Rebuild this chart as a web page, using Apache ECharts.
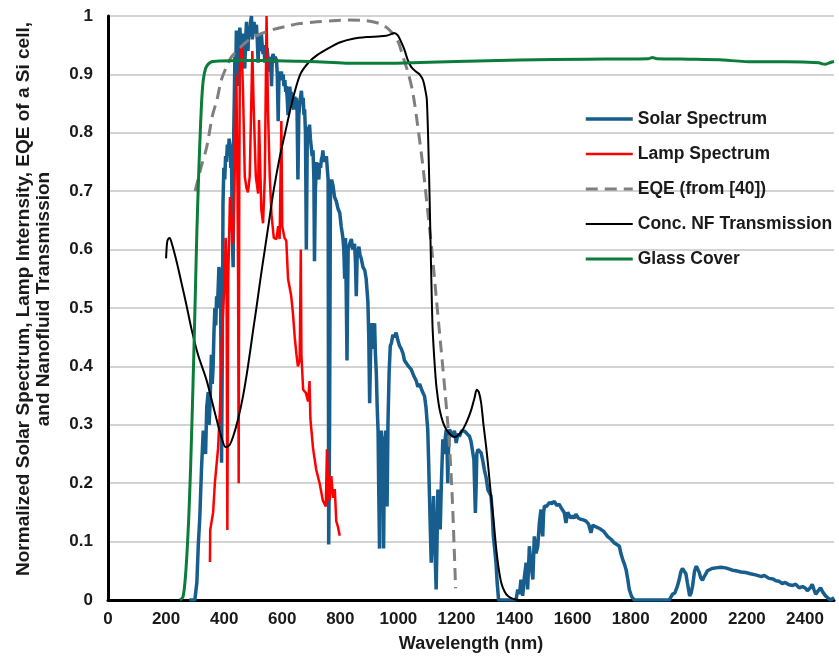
<!DOCTYPE html>
<html>
<head>
<meta charset="utf-8">
<script src="https://cdn.jsdelivr.net/npm/echarts@6/dist/echarts.min.js"></script>
<style>
html,body{margin:0;padding:0;background:#fff;}
#chart{width:839px;height:658px;}
</style>
</head>
<body>
<div id="chart"></div>
<script>
// Wavelength (nm) / value pairs
var solarSpectrum = [[280,0],[299,0],[306,0.03],[311,0.095],[316,0.14],[322,0.225],[328,0.29],[333,0.29],[336,0.25],[340,0.33],[345,0.356],[348,0.3],[351,0.33],[356,0.42],[359,0.37],[362,0.40],[365,0.46],[368,0.5],[371,0.47],[374,0.52],[377,0.5],[379,0.53],[382,0.57],[385,0.56],[388,0.5],[391,0.235],[394,0.45],[396,0.68],[399,0.74],[402,0.72],[405,0.76],[408,0.75],[411,0.78],[414,0.76],[417,0.79],[420,0.78],[423,0.74],[425,0.78],[428,0.62],[431,0.57],[433,0.8],[435,0.86],[437,0.93],[440,0.9],[442,0.975],[445,0.94],[448,0.88],[451,0.96],[454,0.98],[457,0.95],[460,0.97],[462,0.93],[465,0.97],[468,0.95],[471,0.91],[474,0.96],[477,0.99],[480,0.96],[482,0.94],[485,0.98],[488,0.965],[491,0.99],[494,1.0],[497,0.96],[500,0.975],[503,0.99],[505,0.97],[508,0.98],[511,0.985],[514,0.96],[517,0.92],[519,0.95],[522,0.965],[525,0.94],[528,0.97],[531,0.95],[534,0.935],[537,0.95],[540,0.92],[543,0.94],[548,0.945],[552,0.92],[557,0.905],[560,0.93],[563,0.88],[566,0.93],[569,0.935],[572,0.92],[575,0.93],[580,0.925],[583,0.9],[586,0.82],[589,0.9],[591,0.905],[594,0.89],[597,0.905],[600,0.89],[603,0.9],[606,0.88],[609,0.89],[612,0.87],[614,0.88],[617,0.86],[620,0.83],[623,0.87],[626,0.879],[629,0.86],[631,0.87],[634,0.85],[637,0.853],[640,0.84],[643,0.862],[646,0.85],[649,0.86],[651,0.84],[654,0.72],[657,0.83],[660,0.846],[663,0.86],[666,0.872],[669,0.85],[672,0.86],[675,0.83],[677,0.84],[680,0.8],[683,0.6],[686,0.78],[689,0.81],[692,0.8],[694,0.814],[697,0.79],[700,0.79],[703,0.76],[706,0.77],[709,0.72],[711,0.58],[714,0.7],[718,0.75],[720,0.73],[723,0.74],[726,0.72],[729,0.748],[732,0.74],[735,0.755],[738,0.76],[740,0.77],[743,0.75],[746,0.76],[749,0.75],[752,0.76],[755,0.74],[758,0.72],[760,0.095],[763,0.3],[766,0.71],[770,0.72],[775,0.709],[780,0.69],[786,0.683],[792,0.67],[798,0.663],[803,0.64],[809,0.62],[812,0.6],[815,0.55],[818,0.62],[821,0.5],[823,0.41],[825,0.52],[827,0.6],[832,0.61],[838,0.618],[843,0.6],[849,0.61],[852,0.58],[855,0.52],[858,0.59],[864,0.605],[868,0.59],[872,0.585],[878,0.57],[884,0.565],[889,0.55],[892,0.53],[895,0.51],[898,0.45],[901,0.337],[904,0.42],[907,0.474],[910,0.44],[912,0.454],[915,0.43],[918,0.474],[921,0.42],[924,0.389],[927,0.33],[930,0.29],[932,0.2],[935,0.088],[938,0.25],[941,0.29],[943,0.24],[945,0.2],[947,0.28],[949,0.088],[952,0.26],[956,0.29],[958,0.22],[961,0.16],[964,0.3],[968,0.389],[972,0.435],[976,0.44],[981,0.454],[986,0.45],[992,0.458],[998,0.445],[1004,0.435],[1010,0.43],[1016,0.422],[1021,0.41],[1027,0.408],[1035,0.4],[1044,0.395],[1052,0.385],[1061,0.376],[1067,0.365],[1073,0.37],[1080,0.36],[1090,0.349],[1095,0.33],[1101,0.292],[1104,0.24],[1107,0.178],[1110,0.12],[1113,0.064],[1117,0.12],[1121,0.178],[1125,0.1],[1130,0.018],[1133,0.1],[1136,0.189],[1140,0.16],[1144,0.121],[1148,0.2],[1153,0.275],[1158,0.25],[1162,0.28],[1165,0.292],[1168,0.25],[1170,0.2],[1173,0.27],[1176,0.292],[1182,0.285],[1188,0.28],[1193,0.29],[1199,0.269],[1205,0.285],[1210,0.28],[1218,0.29],[1228,0.289],[1236,0.285],[1245,0.28],[1250,0.272],[1256,0.269],[1260,0.24],[1265,0.149],[1268,0.2],[1270,0.25],[1274,0.258],[1280,0.26],[1285,0.252],[1290,0.24],[1296,0.223],[1302,0.21],[1308,0.189],[1313,0.19],[1319,0.178],[1323,0.15],[1327,0.109],[1331,0.09],[1336,0.064],[1340,0.03],[1345,0],[1405,0],[1411,0.018],[1417,0.01],[1422,0.035],[1428,0.007],[1434,0.04],[1440,0.064],[1445,0.018],[1451,0.092],[1457,0.06],[1463,0.035],[1468,0.109],[1474,0.08],[1480,0.092],[1485,0.13],[1491,0.155],[1494,0.12],[1497,0.109],[1500,0.15],[1503,0.161],[1510,0.16],[1520,0.167],[1528,0.165],[1537,0.169],[1545,0.162],[1554,0.164],[1560,0.158],[1566,0.155],[1571,0.15],[1577,0.132],[1583,0.15],[1589,0.149],[1594,0.14],[1600,0.144],[1606,0.14],[1611,0.147],[1620,0.14],[1629,0.138],[1638,0.137],[1646,0.135],[1655,0.13],[1663,0.115],[1669,0.128],[1675,0.127],[1686,0.124],[1697,0.121],[1708,0.117],[1720,0.109],[1732,0.104],[1743,0.098],[1752,0.095],[1761,0.092],[1766,0.08],[1772,0.07],[1778,0.062],[1784,0.052],[1790,0.035],[1795,0.018],[1803,0.006],[1812,0],[1933,0],[1944,0.01],[1952,0.012],[1961,0.024],[1967,0.035],[1972,0.047],[1978,0.054],[1984,0.054],[1990,0.045],[1995,0.03],[2003,0.007],[2008,0.012],[2013,0.024],[2020,0.05],[2026,0.058],[2031,0.055],[2036,0.047],[2041,0.038],[2047,0.034],[2053,0.04],[2059,0.045],[2064,0.05],[2070,0.052],[2080,0.054],[2093,0.055],[2110,0.056],[2127,0.055],[2140,0.053],[2150,0.051],[2162,0.05],[2180,0.048],[2196,0.047],[2212,0.045],[2230,0.043],[2250,0.04],[2260,0.042],[2276,0.037],[2290,0.036],[2300,0.033],[2311,0.032],[2322,0.028],[2332,0.03],[2345,0.026],[2358,0.025],[2368,0.027],[2380,0.021],[2392,0.023],[2402,0.02],[2408,0.016],[2414,0.013],[2420,0.022],[2425,0.027],[2431,0.018],[2437,0.01],[2446,0.016],[2454,0.021],[2462,0.013],[2471,0.007],[2480,0.003],[2488,0],[2500,0.004]];

var lampSpectrum = [[351,0.065],[352,0.12],[362,0.15],[368,0.2],[379,0.26],[385,0.32],[389,0.38],[391,0.43],[396,0.49],[402,0.55],[405,0.62],[408,0.58],[411,0.12],[414,0.55],[420,0.69],[425,0.64],[431,0.61],[437,0.75],[442,0.9],[446,0.7],[448,0.55],[450,0.2],[452,0.7],[454,0.91],[460,0.95],[465,0.87],[471,0.725],[477,0.705],[482,0.698],[488,0.725],[494,0.867],[497,0.94],[502,0.838],[509,0.725],[517,0.696],[520,0.822],[528,0.668],[534,0.645],[540,0.725],[546,1.0],[551,0.838],[557,0.725],[563,0.66],[571,0.62],[580,0.618],[586,0.64],[591,0.618],[597,0.82],[600,0.64],[608,0.62],[614,0.615],[620,0.55],[631,0.52],[637,0.49],[643,0.45],[649,0.42],[654,0.40],[660,0.41],[664,0.6],[666,0.42],[672,0.36],[681,0.355],[689,0.34],[694,0.375],[697,0.31],[706,0.26],[717,0.223],[729,0.199],[740,0.17],[750,0.16],[754,0.258],[758,0.2],[763,0.17],[769,0.212],[775,0.175],[781,0.19],[786,0.135],[792,0.125],[798,0.11]];

var eqeSi = [[300,0.70],[320,0.74],[340,0.776],[360,0.83],[375,0.856],[390,0.89],[408,0.913],[425,0.93],[442,0.939],[470,0.953],[500,0.964],[535,0.971],[570,0.977],[620,0.983],[660,0.987],[720,0.99],[775,0.992],[830,0.993],[890,0.992],[935,0.987],[960,0.98],[980,0.97],[1000,0.955],[1016,0.93],[1035,0.9],[1050,0.868],[1067,0.81],[1085,0.74],[1100,0.67],[1115,0.6],[1130,0.52],[1145,0.44],[1160,0.36],[1175,0.27],[1185,0.18],[1192,0.09],[1197,0.02]];

var nfTransmission = [[200,0.585],[203,0.61],[206,0.617],[212,0.62],[220,0.61],[236,0.58],[253,0.543],[271,0.503],[288,0.463],[310,0.42],[339,0.377],[374,0.309],[390,0.28],[405,0.262],[418,0.265],[431,0.28],[448,0.31],[465,0.349],[482,0.4],[500,0.463],[511,0.5],[525,0.55],[540,0.6],[555,0.65],[570,0.7],[590,0.755],[610,0.8],[635,0.855],[662,0.9],[690,0.92],[720,0.933],[760,0.945],[800,0.955],[844,0.961],[890,0.964],[930,0.965],[958,0.966],[975,0.969],[985,0.971],[998,0.967],[1010,0.955],[1021,0.942],[1032,0.925],[1044,0.913],[1060,0.905],[1073,0.9],[1085,0.89],[1092,0.875],[1098,0.856],[1105,0.742],[1110,0.628],[1115,0.514],[1118,0.463],[1124,0.41],[1130,0.37],[1136,0.345],[1142,0.326],[1153,0.305],[1165,0.292],[1180,0.283],[1193,0.279],[1208,0.283],[1222,0.292],[1237,0.307],[1251,0.326],[1262,0.346],[1270,0.36],[1277,0.356],[1285,0.337],[1293,0.3],[1302,0.263],[1311,0.22],[1319,0.178],[1328,0.135],[1336,0.092],[1345,0.055],[1354,0.03],[1365,0.015],[1377,0.007],[1395,0.002],[1417,0],[1450,0]];

var glassCover = [[248,0],[258,0.005],[265,0.03],[272,0.08],[278,0.14],[284,0.22],[290,0.32],[296,0.43],[301,0.53],[306,0.63],[311,0.71],[316,0.78],[322,0.85],[328,0.89],[336,0.91],[346,0.918],[360,0.922],[385,0.923],[450,0.924],[546,0.924],[660,0.9225],[774,0.9205],[832,0.919],[946,0.919],[1073,0.9205],[1200,0.922],[1417,0.9245],[1647,0.926],[1860,0.927],[1875,0.929],[1890,0.927],[2000,0.926],[2104,0.925],[2218,0.9215],[2335,0.9215],[2448,0.92],[2460,0.918],[2472,0.9175],[2485,0.92],[2500,0.922]];

var seriesNames = ['Solar Spectrum','Lamp Spectrum','EQE (from [40])','Conc. NF Transmission','Glass Cover'];
var xTickStep = 200, yTickStep = 0.1;

var FONT = '"Liberation Sans", Arial, sans-serif';
var TEXT = '#1a1a1a';
var styles = [
  {color:'#175d8d', width:3.5},
  {color:'#ff0000', width:2.5},
  {color:'#7f7f7f', width:3, type:[12,7]},
  {color:'#000000', width:2},
  {color:'#0b7d3a', width:3}
];
var chart = echarts.init(document.getElementById('chart'), null, {renderer:'canvas'});
function lineSeries(i, data, opts){
  var st = styles[i];
  var s = {name:seriesNames[i], type:'line', data:data, showSymbol:false, symbol:'none',
    lineStyle:{color:st.color, width:st.width, type:st.type || 'solid'},
    itemStyle:{color:st.color}, emphasis:{disabled:true}, z:2};
  if (opts) for (var k in opts) s[k]=opts[k];
  return s;
}
chart.setOption({
  animation:false,
  backgroundColor:'#fff',
  grid:{left:108, right:5, top:16, bottom:57, containLabel:false},
  legend:{
    orient:'vertical', left:584, top:109, padding:0, itemWidth:47, itemHeight:20, itemGap:15,
    itemStyle:{opacity:0},
    textStyle:{fontFamily:FONT, fontWeight:'bold', fontSize:17.5, color:TEXT, lineHeight:20},
    data:seriesNames.map(function(n, i){
      return {name:n, lineStyle:{width:styles[i].width, color:styles[i].color, type:styles[i].type || 'solid'}};
    })
  },
  xAxis:{
    type:'value', min:0, max:2500, interval:xTickStep,
    name:'Wavelength (nm)', nameLocation:'middle', nameGap:35,
    nameTextStyle:{fontFamily:FONT, fontWeight:'bold', fontSize:18, color:TEXT},
    axisLine:{show:true, onZero:false, lineStyle:{color:'#000', width:3}},
    axisTick:{show:false},
    axisLabel:{fontFamily:FONT, fontWeight:'bold', fontSize:17, color:TEXT, margin:11, showMaxLabel:false,
      formatter:function(v){ return String(v); }},
    splitLine:{show:false}
  },
  yAxis:{
    type:'value', min:0, max:1, interval:yTickStep,
    name:'Normalized Solar Spectrum, Lamp Internsity, EQE of a Si cell,\nand Nanofluid Transmission',
    nameLocation:'middle', nameGap:54,
    nameTextStyle:{fontFamily:FONT, fontWeight:'bold', fontSize:19, color:TEXT, lineHeight:20, padding:[0,0,0,18]},
    axisLine:{show:true, onZero:false, lineStyle:{color:'#000', width:3}},
    axisTick:{show:false},
    axisLabel:{fontFamily:FONT, fontWeight:'bold', fontSize:17, color:TEXT, margin:15},
    splitLine:{show:true, lineStyle:{color:'#c4c4c4', width:1.5}}
  },
  series:[
    lineSeries(0, solarSpectrum),
    lineSeries(1, lampSpectrum),
    lineSeries(2, eqeSi, {smooth:0.3}),
    lineSeries(3, nfTransmission, {smooth:0.3}),
    lineSeries(4, glassCover, {smooth:0.2})
  ]
});
</script>
</body>
</html>
